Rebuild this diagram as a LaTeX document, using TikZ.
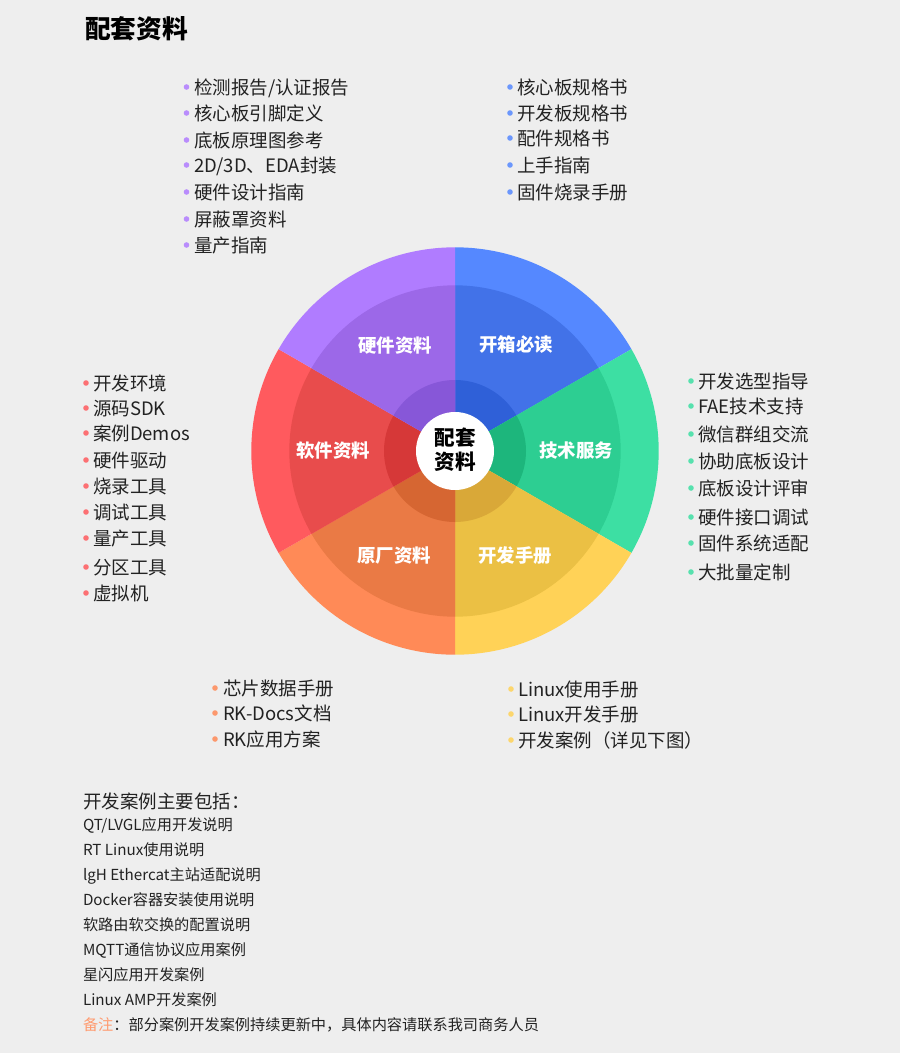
\documentclass[tikz,border=0pt]{standalone}
\usepackage{fontspec}
\setmainfont{Noto Sans CJK SC}
\definecolor{bgc}{HTML}{EEEEEE}
\definecolor{txt}{HTML}{222222}
\definecolor{cblue}{HTML}{5588FF}
\definecolor{cgreen}{HTML}{3DDFA3}
\definecolor{cyellow}{HTML}{FFD257}
\definecolor{corange}{HTML}{FF8A57}
\definecolor{cred}{HTML}{FF5A5E}
\definecolor{cpurple}{HTML}{B07CFF}
\definecolor{mblue}{HTML}{4272E8}
\definecolor{mgreen}{HTML}{2DCE92}
\definecolor{myellow}{HTML}{EBC044}
\definecolor{morange}{HTML}{EA7A45}
\definecolor{mred}{HTML}{E84C4C}
\definecolor{mpurple}{HTML}{9C68E8}
\definecolor{iblue}{HTML}{2F60D8}
\definecolor{igreen}{HTML}{1DB67C}
\definecolor{iyellow}{HTML}{D9A838}
\definecolor{iorange}{HTML}{D66632}
\definecolor{ired}{HTML}{D63838}
\definecolor{ipurple}{HTML}{8757D8}
\definecolor{cnote}{HTML}{FF9B70}
\tikzset{
  base text/.style={inner sep=0pt,outer sep=0pt,anchor=west,text=txt},
  list text/.style={base text,font=\fontsize{18.5}{18.5}\selectfont,text height=16.3pt,text depth=2.2pt},
  small text/.style={base text,font=\fontsize{15.2}{15.2}\selectfont,text height=13.4pt,text depth=1.8pt},
  title text/.style={base text,font=\fontsize{25.7}{25.7}\selectfont\bfseries,text=black,text height=22.6pt,text depth=3.1pt},
  wheel text/.style={inner sep=0pt,text=white,font=\fontsize{18.4}{18.4}\selectfont\bfseries,text height=16.2pt,text depth=2.2pt},
  hub text/.style={inner sep=0pt,text=black,font=\fontsize{20.6}{20.6}\selectfont\bfseries,text height=18.1pt,text depth=2.5pt},
  dot/.style={circle,inner sep=0pt,minimum size=5.6pt,fill=#1,opacity=.85},
}
\newcommand{\sectorfill}[3]{%
  \fill[c#1] (hub) -- ++(#2:203.7pt) arc[start angle=#2,end angle=#3,radius=203.7pt] -- cycle;
  \fill[m#1] (hub) -- ++(#2:165.7pt) arc[start angle=#2,end angle=#3,radius=165.7pt] -- cycle;
  \fill[i#1] (hub) -- ++(#2:71pt) arc[start angle=#2,end angle=#3,radius=71pt] -- cycle;
}
\newcommand{\listcol}[5]{%
  \foreach \yy/\lbl [count=\nn] in {#5} {
    \node[dot=#2] (#1d\nn) at (#3,\yy) {};
    \node[list text] (#1t\nn) at (#4,\yy) {\lbl};
  }
}
\begin{document}
\begin{tikzpicture}[x=1pt,y=-1pt]
\fill[bgc] (0,0) rectangle (900,1053);
\useasboundingbox (0,0) rectangle (900,1053);
\coordinate (hub) at (455,451);
\node[title text] (title) at (85,29) {配套资料};
% wheel
\sectorfill{blue}{30}{90}
\sectorfill{green}{-30}{30}
\sectorfill{yellow}{-90}{-30}
\sectorfill{orange}{-150}{-90}
\sectorfill{red}{150}{210}
\sectorfill{purple}{90}{150}
\node[circle,fill=white,inner sep=0pt,minimum size=78pt] (center) at (hub) {};
\node[hub text] (c1) at (455,437.5) {配套};
\node[hub text] (c2) at (455,462) {资料};
\node[wheel text] (w1) at (395,345) {硬件资料};
\node[wheel text] (w2) at (516,344) {开箱必读};
\node[wheel text] (w3) at (333,450) {软件资料};
\node[wheel text] (w4) at (576,450) {技术服务};
\node[wheel text] (w5) at (394,555) {原厂资料};
\node[wheel text] (w6) at (515,555) {开发手册};
% lists
\listcol{p}{cpurple}{186.5}{194}{87/{检测报告/认证报告},113/{核心板引脚定义},140/{底板原理图参考},165/{2D/3D、EDA封装},192/{硬件设计指南},219/{屏蔽罩资料},245/{量产指南}}
\listcol{b}{cblue}{510}{517}{87/{核心板规格书},113/{开发板规格书},138/{配件规格书},165/{上手指南},192/{固件烧录手册}}
\listcol{g}{cgreen}{691}{698}{381/{开发选型指导},406/{FAE技术支持},434/{微信群组交流},461/{协助底板设计},488/{底板设计评审},517/{硬件接口调试},543/{固件系统适配},572/{大批量定制}}
\listcol{r}{cred}{86}{93}{383/{开发环境},408/{源码SDK},433/{案例Demos},460/{硬件驱动},486/{烧录工具},512/{调试工具},538/{量产工具},567/{分区工具},593/{虚拟机}}
\listcol{o}{corange}{215}{223}{688/{芯片数据手册},713/{RK-Docs文档},739/{RK应用方案}}
\listcol{y}{cyellow}{511}{518}{689/{Linux使用手册},714/{Linux开发手册},740/{开发案例（详见下图）}}
% bottom text
\node[list text] (hd) at (83,801) {开发案例主要包括：};
\foreach \yy/\lbl [count=\nn] in {825/{QT/LVGL应用开发说明},850/{RT Linux使用说明},875/{lgH Ethercat主站适配说明},900/{Docker容器安装使用说明},925/{软路由软交换的配置说明},950/{MQTT通信协议应用案例},975/{星闪应用开发案例},1000/{Linux AMP开发案例}} {
  \node[small text] (s\nn) at (83,\yy) {\lbl};
}
\node[small text] (note) at (83,1024.5) {\textcolor{cnote}{备注}：部分案例开发案例持续更新中，具体内容请联系我司商务人员};
\end{tikzpicture}
\end{document}
